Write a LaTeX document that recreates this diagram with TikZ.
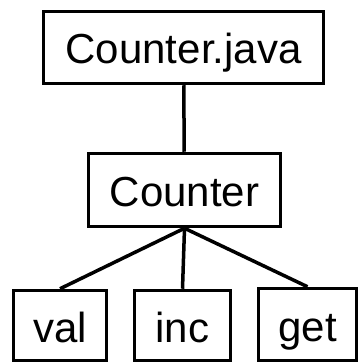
\documentclass[tikz,border=0pt]{standalone}
\usepackage{fontspec}
\setmainfont{Liberation Sans}

\tikzset{box/.style={draw, line width=3.5pt, inner sep=0pt, text height=36pt, text depth=3pt, font=\fontsize{42}{42}\selectfont}}

\begin{document}
\begin{tikzpicture}[x=1pt, y=-1pt]
\useasboundingbox (0,0) rectangle (360,363);

\node [box, minimum width=280pt, minimum height=72pt] (file) at (183.5,47.5) {Counter.java};
\node [box, minimum width=192pt, minimum height=73pt] (counter) at (184.5,190) {Counter};
% members
\node [box, minimum width=93pt, minimum height=70pt] (val) at (60,325.5) {val};
\node [box, minimum width=96pt, minimum height=70pt] (inc) at (182.5,325.5) {inc};
\node [box, minimum width=98pt, minimum height=72pt] (get) at (307.5,324.5) {get};

\draw [line width=3.5pt] (file) -- (counter);
\draw [line width=3.5pt] (counter.south) -- (val.north);
\draw [line width=3.5pt] (counter.south) -- (inc.north);
\draw [line width=3.5pt] (counter.south) -- (get.north);
\end{tikzpicture}
\end{document}
